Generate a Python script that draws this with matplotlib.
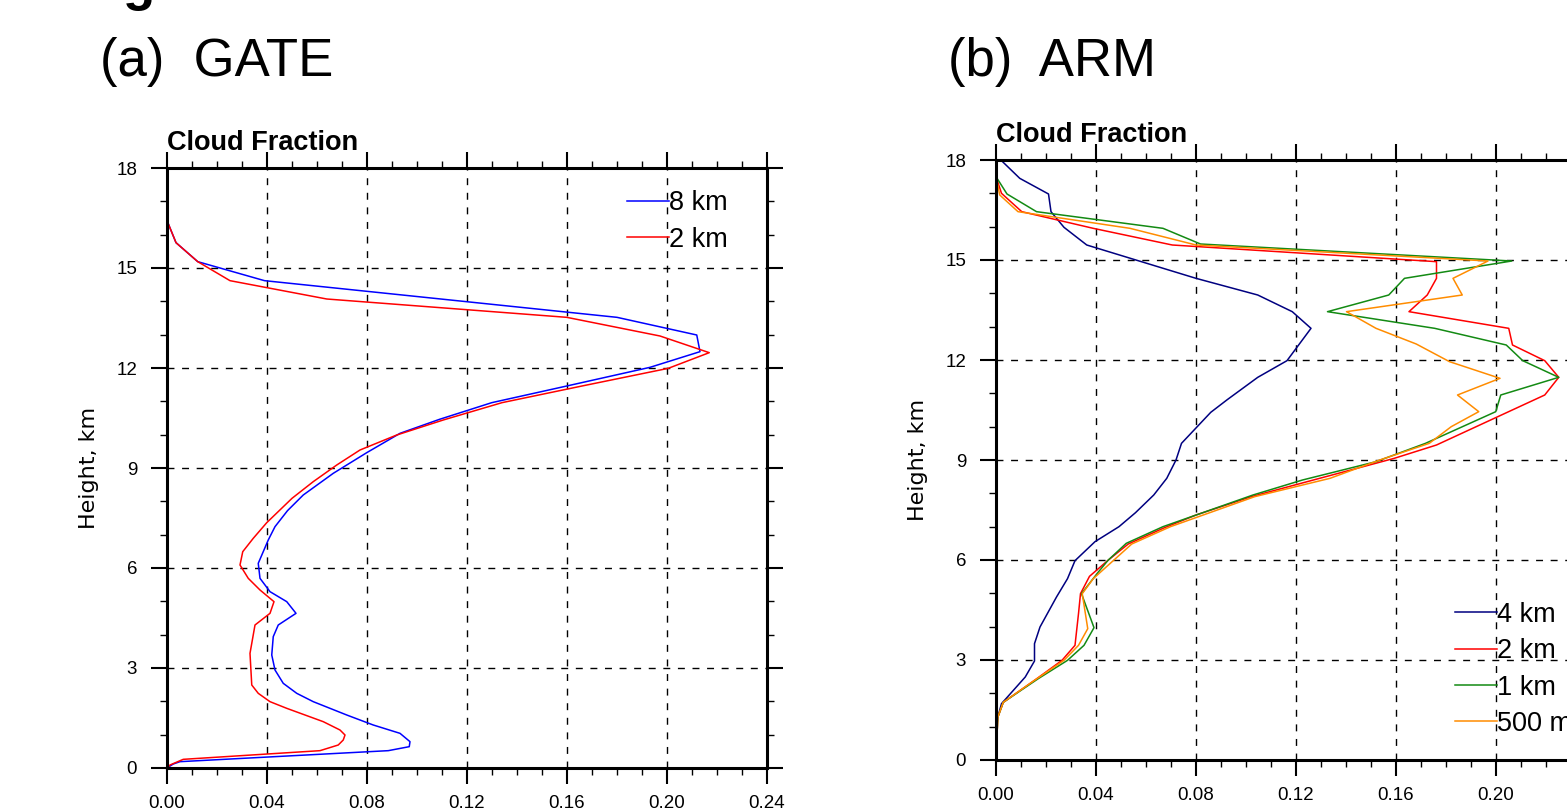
import matplotlib
matplotlib.use("Agg")
import matplotlib.pyplot as plt
from matplotlib.ticker import MultipleLocator, FormatStrFormatter

plt.rcParams['font.family'] = ['Liberation Sans', 'DejaVu Sans']

# (a) GATE: cloud fraction profiles, height (km) / fraction
gate_8km_z = [17.1, 16.33, 15.76, 15.19, 14.62, 13.52, 12.99, 12.49, 12.02, 11.46,
              10.96, 10.46, 10.04, 9.46, 8.84, 8.19, 7.72, 7.24, 6.84, 6.14,
              5.69, 5.29, 4.99, 4.64, 4.29, 3.94, 3.39, 2.94, 2.54, 2.24,
              1.99, 1.59, 1.29, 1.04, 0.79, 0.64, 0.52, 0.19, 0.12, 0.0]
gate_8km_cf = [0.0, 0.0005, 0.0036, 0.0123, 0.039, 0.180, 0.2119, 0.2132, 0.1932, 0.1599,
               0.1299, 0.1090, 0.0932, 0.0799, 0.0665, 0.0545, 0.0482, 0.0432, 0.0405, 0.0365,
               0.0372, 0.0412, 0.0479, 0.0516, 0.0445, 0.0425, 0.0419, 0.0432, 0.0465, 0.0519,
               0.0585, 0.0719, 0.0825, 0.0932, 0.0972, 0.0969, 0.0885, 0.0052, 0.0025, 0.0]

gate_2km_z = [17.1, 16.33, 15.76, 15.19, 14.62, 14.07, 13.52, 12.96, 12.46, 11.99,
              11.46, 10.96, 10.44, 9.99, 9.54, 9.09, 8.59, 8.09, 7.36, 6.89,
              6.49, 6.09, 5.69, 5.34, 4.99, 4.64, 4.29, 3.44, 2.49, 2.24,
              1.99, 1.79, 1.39, 1.14, 0.99, 0.84, 0.69, 0.52, 0.26, 0.09, 0.0]
gate_2km_cf = [0.0, 0.0005, 0.0036, 0.0123, 0.0252, 0.0639, 0.1599, 0.1972, 0.2169, 0.2005,
               0.166, 0.134, 0.1105, 0.0919, 0.0772, 0.0679, 0.0585, 0.0500, 0.0399, 0.0345,
               0.0303, 0.0292, 0.0325, 0.0372, 0.0428, 0.0412, 0.0352, 0.0332, 0.0339, 0.0365,
               0.0412, 0.0479, 0.0625, 0.0692, 0.0712, 0.0705, 0.0685, 0.0612, 0.0065, 0.0012, 0.0]

# (b) ARM
arm_4km_z = [17.98, 17.45, 16.98, 16.45, 15.98, 15.45, 14.45, 13.95, 13.45, 12.95,
             11.98, 11.48, 10.81, 10.43, 9.50, 9.00, 8.45, 7.95, 7.42, 7.0,
             6.55, 5.98, 5.44, 4.89, 3.99, 3.49, 2.97, 2.49, 1.69, 1.28, 0.78, 0.0]
arm_4km_cf = [0.0022, 0.0095, 0.0210, 0.0220, 0.0272, 0.0363, 0.0800, 0.1047, 0.1185, 0.1260,
              0.1164, 0.1047, 0.0925, 0.0859, 0.0742, 0.0720, 0.0683, 0.0631, 0.0558, 0.0492,
              0.0396, 0.0316, 0.0286, 0.0242, 0.0176, 0.0154, 0.0154, 0.0117, 0.0022, 0.0007, 0.0, 0.0]

arm_2km_z = [17.5, 17.0, 16.45, 15.95, 15.45, 14.95, 14.45, 13.95, 13.45, 12.95,
             12.45, 11.98, 11.48, 10.95, 9.45, 9.05, 7.90, 7.35, 6.95, 6.48,
             5.99, 5.51, 4.99, 4.39, 3.44, 2.99, 2.39, 1.73, 1.28, 0.0]
arm_2km_cf = [0.0, 0.0022, 0.0103, 0.0389, 0.0705, 0.1762, 0.1762, 0.1725, 0.1652, 0.2051,
              0.2066, 0.2195, 0.2251, 0.2195, 0.1762, 0.1593, 0.1021, 0.0800, 0.0668, 0.0529,
              0.0448, 0.0374, 0.0338, 0.0330, 0.0316, 0.0264, 0.0154, 0.0029, 0.0007, 0.0]

arm_1km_z = [17.5, 16.98, 16.45, 15.95, 15.48, 14.97, 14.45, 13.95, 13.45, 12.95,
             12.45, 11.98, 11.48, 10.95, 10.45, 9.50, 8.95, 8.40, 7.95, 7.0,
             6.50, 5.99, 5.59, 4.99, 3.97, 3.44, 2.99, 2.44, 1.73, 1.28, 0.0]
arm_1km_cf = [0.0, 0.0044, 0.0162, 0.0668, 0.0818, 0.2063, 0.1634, 0.1571, 0.1326, 0.1755,
              0.2041, 0.2107, 0.2251, 0.2019, 0.1999, 0.1718, 0.1520, 0.1226, 0.1028, 0.0668,
              0.0521, 0.0448, 0.0404, 0.0342, 0.0392, 0.0352, 0.0286, 0.0169, 0.0029, 0.0007, 0.0]

arm_500m_z = [17.5, 16.95, 16.45, 15.95, 15.45, 14.97, 14.45, 13.95, 13.45, 12.95,
              12.48, 11.95, 11.45, 10.95, 10.45, 10.0, 9.50, 9.0, 8.45, 7.90,
              7.0, 6.48, 5.44, 4.99, 3.94, 3.44, 2.99, 2.39, 1.73, 1.28, 0.0]
arm_500m_cf = [0.0, 0.0015, 0.0088, 0.0536, 0.0800, 0.1968, 0.1828, 0.1865, 0.1402, 0.1520,
               0.1681, 0.1814, 0.2016, 0.1846, 0.1931, 0.1821, 0.1733, 0.1535, 0.1336, 0.1035,
               0.0698, 0.0543, 0.0389, 0.0345, 0.0367, 0.0330, 0.0272, 0.0154, 0.0029, 0.0007, 0.0]

W, H = 1567, 809
fig = plt.figure(figsize=(W / 100, H / 100), dpi=100)


def make_axes(left_px, bottom_px):
    ax = fig.add_axes([left_px / W, (H - bottom_px) / H, 600 / W, 600 / H])
    ax.set_xlim(0, 0.24)
    ax.set_ylim(0, 18)
    ax.xaxis.set_major_locator(MultipleLocator(0.04))
    ax.xaxis.set_minor_locator(MultipleLocator(0.01))
    ax.yaxis.set_major_locator(MultipleLocator(3))
    ax.yaxis.set_minor_locator(MultipleLocator(1))
    ax.xaxis.set_major_formatter(FormatStrFormatter('%.2f'))
    ax.tick_params(which='both', direction='out', top=True, right=True)
    ax.tick_params(which='major', length=11.5, width=1.5, labelsize=13.5)
    ax.tick_params(axis='x', which='major', pad=8)
    ax.tick_params(axis='y', which='major', pad=10)
    ax.tick_params(which='minor', length=5, width=1)
    for s in ax.spines.values():
        s.set_linewidth(2.2)
    ax.grid(True, which='major', color='black', lw=1.0, ls=(0, (5, 5.5)))
    ax.set_ylabel('Height, km', family='DejaVu Sans', fontsize=16)
    ax.yaxis.set_label_coords(-0.113, 0.5)
    ax.text(0, 1.03, 'Cloud Fraction', transform=ax.transAxes, fontsize=19.5,
            fontweight='bold', va='baseline', ha='left')
    return ax


leg_kw = dict(loc='center left', frameon=False, fontsize=19.5, handlelength=1.55,
              handletextpad=0.0, borderpad=0, borderaxespad=0, labelspacing=0.38)

# panel a
ax1 = make_axes(167, 768)
ax1.plot(gate_8km_cf, gate_8km_z, color='#0000ff', lw=1.1, label='8 km')
ax1.plot(gate_2km_cf, gate_2km_z, color='#ff0000', lw=1.1, label='2 km')
ax1.legend(bbox_to_anchor=(0.767, 0.911), **leg_kw)

# panel b
ax2 = make_axes(996, 760)
ax2.plot(arm_4km_cf, arm_4km_z, color='#000080', lw=1.1, label='4 km')
ax2.plot(arm_2km_cf, arm_2km_z, color='#ff0000', lw=1.1, label='2 km')
ax2.plot(arm_1km_cf, arm_1km_z, color='#138a13', lw=1.1, label='1 km')
ax2.plot(arm_500m_cf, arm_500m_z, color='#ff8c00', lw=1.1, label='500 m')
ax2.legend(bbox_to_anchor=(0.765, 0.151), **leg_kw)

fig.text(100 / W, (H - 76) / H, '(a)  GATE', fontsize=38, va='baseline', ha='left')
fig.text(948 / W, (H - 76) / H, '(b)  ARM', fontsize=38, va='baseline', ha='left')
fig.text(123 / W, 1.0, 'g', fontsize=38, fontweight='bold', va='baseline', ha='left')

fig.savefig('out.png', dpi=100)
